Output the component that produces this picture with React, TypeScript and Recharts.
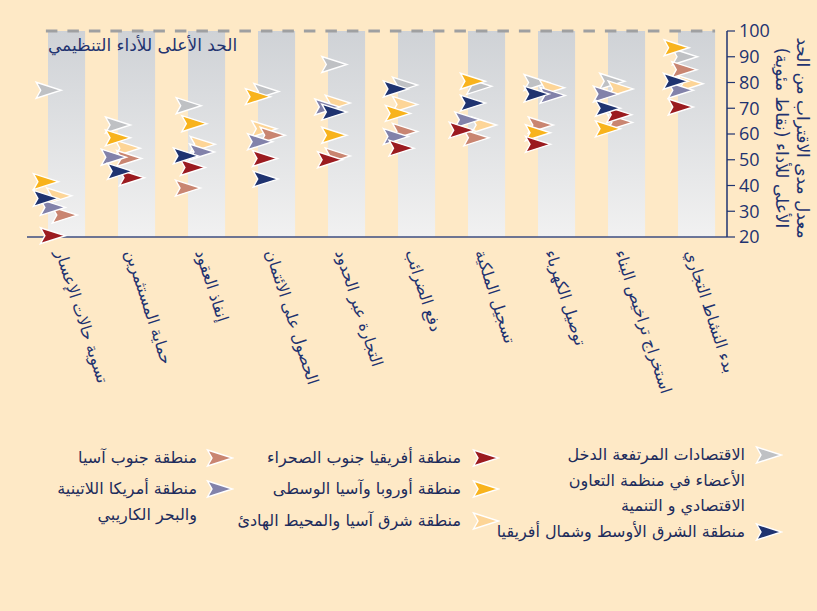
import React from 'react';
import { ComposedChart, Scatter, XAxis, YAxis, ReferenceArea, ReferenceLine } from 'recharts';

// categories, left to right as drawn (the chart reads right to left)
const categories = [
  'تسوية حالات الإعسار',
  'حماية المستثمرين',
  'إنفاذ العقود',
  'الحصول على الائتمان',
  'التجارة عبر الحدود',
  'دفع الضرائب',
  'تسجيل الملكية',
  'توصيل الكهرباء',
  'استخراج تراخيص البناء',
  'بدء النشاط التجاري',
];

const yTicks = [20, 30, 40, 50, 60, 70, 80, 90, 100];

// distance to frontier, per region
const oecd = [77, 63.5, 71, 76.5, 87, 79, 78.5, 80, 80.5, 90];
const mena = [35, 45.5, 51.5, 42.5, 68.5, 77.5, 72, 75.5, 70, 80.5];
const ssa = [20.5, 43, 47, 50.5, 50, 54.5, 61.5, 56, 67.5, 70.5];
const eca = [41.5, 58.5, 64, 74.5, 59.5, 68, 80.5, 60.5, 62, 93.5];
const eap = [36, 54.5, 56, 62, 72, 71.5, 63.5, 78, 77.5, 79.5];
const sAsia = [28.5, 50.5, 39, 59.5, 51.5, 61, 58.5, 63.5, 64.5, 85];
const lac = [31.5, 51, 53, 57, 70.5, 59, 65.5, 75, 75.5, 77];

// small sideways nudge inside each category (category units) so markers don't hide each other
const oecdNudge = [-0.19, -0.2, -0.19, -0.08, -0.11, -0.1, -0.04, -0.22, -0.14, -0.1];
const menaNudge = [-0.23, -0.17, -0.23, -0.09, -0.11, -0.23, -0.13, -0.22, -0.2, -0.23];
const ssaNudge = [-0.13, 0, -0.13, -0.1, -0.17, -0.15, -0.29, -0.2, -0.04, -0.16];
const ecaNudge = [-0.23, -0.2, -0.11, -0.2, -0.11, -0.2, -0.13, -0.2, -0.2, -0.22];
const eapNudge = [-0.04, -0.06, 0.01, -0.11, -0.06, -0.1, 0.03, 0, -0.02, -0.02];
const sAsiaNudge = [0.04, -0.04, -0.2, 0.01, -0.06, -0.1, -0.08, -0.16, -0.03, -0.11];
const lacNudge = [-0.13, -0.26, 0, -0.17, -0.21, -0.23, -0.21, 0.01, -0.23, -0.16];

const NAVY = '#1f3370';
const BG = '#fee9c6';
const FONT = '"DejaVu Sans", sans-serif';

const series = [
  { key: 'oecd', values: oecd, nudge: oecdNudge, color: '#bfc1c4' },
  { key: 'eap', values: eap, nudge: eapNudge, color: '#fdd597' },
  { key: 'sAsia', values: sAsia, nudge: sAsiaNudge, color: '#c98571' },
  { key: 'lac', values: lac, nudge: lacNudge, color: '#8282aa' },
  { key: 'eca', values: eca, nudge: ecaNudge, color: '#f8b31c' },
  { key: 'ssa', values: ssa, nudge: ssaNudge, color: '#9b1b20' },
  { key: 'mena', values: mena, nudge: menaNudge, color: '#1f3370' },
];

const legendItems = [
  { label: 'الاقتصادات المرتفعة الدخل\nالأعضاء في منظمة التعاون\nالاقتصادي و التنمية', color: '#bfc1c4', dartX: 769, textRight: 745, y: 455 },
  { label: 'منطقة الشرق الأوسط وشمال أفريقيا', color: '#1f3370', dartX: 769, textRight: 745, y: 532 },
  { label: 'منطقة أفريقيا جنوب الصحراء', color: '#9b1b20', dartX: 486, textRight: 461, y: 458 },
  { label: 'منطقة أوروبا وآسيا الوسطى', color: '#f8b31c', dartX: 486, textRight: 461, y: 489 },
  { label: 'منطقة شرق آسيا والمحيط الهادئ', color: '#fdd597', dartX: 486, textRight: 461, y: 521 },
  { label: 'منطقة جنوب آسيا', color: '#c98571', dartX: 220, textRight: 197, y: 458 },
  { label: 'منطقة أمريكا اللاتينية\nوالبحر الكاريبي', color: '#8282aa', dartX: 220, textRight: 197, y: 489 },
];

const BAND_FROM = 0.3;
const BAND_TO = 0.83;

const dartPath = (cx: number, cy: number) =>
  `M${cx - 12.5},${cy - 8} L${cx + 12.5},${cy} L${cx - 12.5},${cy + 8} L${cx - 8},${cy} Z`;

const Dart = (props: any) => {
  const { cx, cy, fill } = props;
  if (cx == null || cy == null) return null;
  return <path d={dartPath(cx, cy)} fill={fill} stroke="#ffffff" strokeWidth={1.4} />;
};

const CategoryTick = (props: any) => {
  const { x, y, payload } = props;
  const label = categories[Math.round(payload.value - 0.5)];
  const ax = x - 7;
  const ay = y + 7;
  return (
    <text x={ax} y={ay} transform={`rotate(72, ${ax}, ${ay})`} textAnchor="start" fontSize={16} fill={NAVY} fontFamily={FONT}>
      {label}
    </text>
  );
};

const YTitle = (props: any) => {
  const cy = 138;
  return (
    <g fill={NAVY} fontFamily={FONT} fontSize={17}>
      <text x={797} y={cy} textAnchor="middle" transform={`rotate(90, 797, ${cy})`}>معدل مدى الاقتراب من الحد</text>
      <text x={776} y={cy} textAnchor="middle" transform={`rotate(90, 776, ${cy})`}>الأعلى للأداء (نقاط مئوية)</text>
    </g>
  );
};

export default function App() {
  return (
    <div style={{ position: 'absolute', left: 0, top: 0, width: 817, height: 611, background: BG, overflow: 'hidden', fontFamily: FONT }}>
      <ComposedChart width={817} height={410} margin={{ top: 31, right: 0, bottom: 0, left: 27 }}>
        <defs>
          <linearGradient id="bandGrad" x1="0" y1="0" x2="0" y2="1">
            <stop offset="0%" stopColor="#cfd2d6" />
            <stop offset="100%" stopColor="#f1f1f1" />
          </linearGradient>
        </defs>
        <XAxis
          type="number"
          dataKey="x"
          domain={[0, categories.length]}
          ticks={categories.map((_, i) => i + 0.5)}
          interval={0}
          tick={<CategoryTick />}
          tickLine={false}
          tickSize={0}
          tickMargin={8}
          height={173}
          axisLine={{ stroke: '#3d4d80', strokeWidth: 1.5 }}
          allowDataOverflow
        />
        <YAxis
          type="number"
          dataKey="y"
          orientation="right"
          domain={[20, 100]}
          ticks={yTicks}
          interval={0}
          width={90}
          tickSize={8}
          tickMargin={4}
          tick={{ fill: NAVY, fontSize: 18, fontFamily: '"Open Sans", sans-serif' }}
          tickLine={{ stroke: NAVY, strokeWidth: 1.2 }}
          axisLine={{ stroke: NAVY, strokeWidth: 1.5 }}
          label={<YTitle />}
        />
        {categories.map((c, i) => (
          <ReferenceArea key={c} x1={i + BAND_FROM} x2={i + BAND_TO} y1={20} y2={100} fill="url(#bandGrad)" fillOpacity={1} stroke="none" />
        ))}
        <ReferenceLine
          segment={[{ x: BAND_FROM - 0.03, y: 100 }, { x: categories.length - 1 + BAND_TO, y: 100 }]}
          stroke="#9fa0a1"
          strokeWidth={3}
          strokeDasharray="11.5 10"
          label={(p: any) => (
            <text x={(p.viewBox?.x ?? 46) + 2} y={(p.viewBox?.y ?? 31) + 20} fill={NAVY} fontSize={17} fontFamily={FONT} textAnchor="start">
              الحد الأعلى للأداء التنظيمي
            </text>
          )}
        />
        {series.map((s) => (
          <Scatter
            key={s.key}
            data={s.values.map((v, i) => ({ x: i + 0.5 + s.nudge[i], y: v }))}
            fill={s.color}
            shape={(p: any) => <Dart {...p} fill={s.color} />}
            isAnimationActive={false}
          />
        ))}
      </ComposedChart>
      {legendItems.map((it) => (
        <React.Fragment key={it.label}>
          <svg style={{ position: 'absolute', left: it.dartX - 14, top: it.y - 10 }} width={28} height={20}>
            <path d={dartPath(14, 10)} fill={it.color} stroke="#ffffff" strokeWidth={1.4} />
          </svg>
          <div
            style={{
              position: 'absolute',
              right: 817 - it.textRight,
              top: it.y - 13,
              fontSize: 16,
              lineHeight: '25.5px',
              color: '#1d2c5c',
              direction: 'rtl',
              textAlign: 'right',
              whiteSpace: 'pre',
            }}
          >
            {it.label}
          </div>
        </React.Fragment>
      ))}
    </div>
  );
}
